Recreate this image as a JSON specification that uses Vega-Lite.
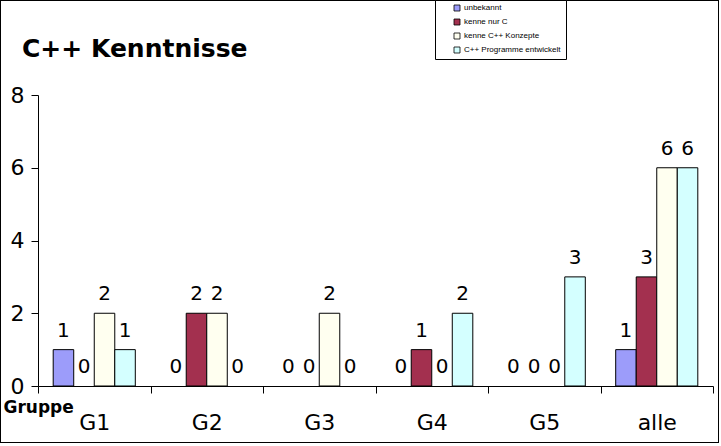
{
  "$schema": "https://vega.github.io/schema/vega-lite/v6.json",
  "width": 719,
  "height": 443,
  "autosize": {"type": "none"},
  "padding": 0,
  "background": "white",
  "config": {
    "view": {"stroke": "black", "strokeWidth": 2},
    "axis": {"grid": false, "domainColor": "black", "tickColor": "black", "labelColor": "black", "domainWidth": 1, "tickWidth": 1}
  },
  "title": {
    "text": "C++ Kenntnisse",
    "font": "DejaVu Sans",
    "fontSize": 25,
    "fontWeight": "bold",
    "color": "black",
    "anchor": "start",
    "frame": "group",
    "orient": "top",
    "offset": 0,
    "baseline": "alphabetic",
    "dx": 22,
    "dy": 82
  },
  "data": {
    "values": [
      {"gruppe": "G1", "serie": "unbekannt", "wert": 1},
      {"gruppe": "G1", "serie": "kenne nur C", "wert": 0},
      {"gruppe": "G1", "serie": "kenne C++ Konzepte", "wert": 2},
      {"gruppe": "G1", "serie": "C++ Programme entwickelt", "wert": 1},
      {"gruppe": "G2", "serie": "unbekannt", "wert": 0},
      {"gruppe": "G2", "serie": "kenne nur C", "wert": 2},
      {"gruppe": "G2", "serie": "kenne C++ Konzepte", "wert": 2},
      {"gruppe": "G2", "serie": "C++ Programme entwickelt", "wert": 0},
      {"gruppe": "G3", "serie": "unbekannt", "wert": 0},
      {"gruppe": "G3", "serie": "kenne nur C", "wert": 0},
      {"gruppe": "G3", "serie": "kenne C++ Konzepte", "wert": 2},
      {"gruppe": "G3", "serie": "C++ Programme entwickelt", "wert": 0},
      {"gruppe": "G4", "serie": "unbekannt", "wert": 0},
      {"gruppe": "G4", "serie": "kenne nur C", "wert": 1},
      {"gruppe": "G4", "serie": "kenne C++ Konzepte", "wert": 0},
      {"gruppe": "G4", "serie": "C++ Programme entwickelt", "wert": 2},
      {"gruppe": "G5", "serie": "unbekannt", "wert": 0},
      {"gruppe": "G5", "serie": "kenne nur C", "wert": 0},
      {"gruppe": "G5", "serie": "kenne C++ Konzepte", "wert": 0},
      {"gruppe": "G5", "serie": "C++ Programme entwickelt", "wert": 3},
      {"gruppe": "alle", "serie": "unbekannt", "wert": 1},
      {"gruppe": "alle", "serie": "kenne nur C", "wert": 3},
      {"gruppe": "alle", "serie": "kenne C++ Konzepte", "wert": 6},
      {"gruppe": "alle", "serie": "C++ Programme entwickelt", "wert": 6}
    ]
  },
  "encoding": {
    "x": {
      "field": "gruppe",
      "type": "nominal",
      "sort": ["G1", "G2", "G3", "G4", "G5", "alle"],
      "scale": {"range": [38, 713], "paddingInner": 0, "paddingOuter": 0},
      "axis": {
        "title": "Gruppe",
        "titleFont": "DejaVu Sans",
        "titleFontSize": 17,
        "titleFontWeight": "bold",
        "titleColor": "black",
        "titleAnchor": null,
        "titleAlign": "left",
        "titleBaseline": "alphabetic",
        "titleX": 3,
        "titleY": 26,
        "offset": -57,
        "tickBand": "extent",
        "tickSize": 7,
        "labelAngle": 0,
        "labelFont": "DejaVu Sans",
        "labelFontSize": 22,
        "labelPadding": 19
      }
    },
    "xOffset": {
      "field": "serie",
      "type": "nominal",
      "sort": ["unbekannt", "kenne nur C", "kenne C++ Konzepte", "C++ Programme entwickelt"],
      "scale": {"paddingInner": 0, "paddingOuter": 0.74}
    },
    "y": {
      "field": "wert",
      "type": "quantitative",
      "scale": {"domain": [0, 8], "range": [386, 95], "nice": false},
      "axis": {
        "title": null,
        "offset": -38,
        "values": [0, 2, 4, 6, 8],
        "tickSize": 7,
        "labelPadding": 7,
        "labelFont": "DejaVu Sans",
        "labelFontSize": 22
      }
    }
  },
  "layer": [
    {
      "transform": [{"filter": "datum.wert > 0"}],
      "mark": {"type": "bar", "stroke": "black", "strokeWidth": 1},
      "encoding": {
        "color": {
          "field": "serie",
          "type": "nominal",
          "sort": ["unbekannt", "kenne nur C", "kenne C++ Konzepte", "C++ Programme entwickelt"],
          "scale": {
            "domain": ["unbekannt", "kenne nur C", "kenne C++ Konzepte", "C++ Programme entwickelt"],
            "range": ["#9c9cfa", "#a3304f", "#fffff0", "#d4ffff"]
          },
          "legend": {
            "orient": "none",
            "legendX": 435,
            "legendY": 0,
            "title": "\u2003",
            "titleOrient": "right",
            "titleFontSize": 13,
            "titlePadding": 2,
            "strokeColor": "black",
            "fillColor": "white",
            "padding": 4,
            "symbolType": "square",
            "symbolSize": 36,
            "symbolStrokeColor": "black",
            "symbolStrokeWidth": 0.8,
            "symbolOffset": 14,
            "labelFont": "Liberation Sans",
            "labelFontSize": 8,
            "labelColor": "black",
            "labelOffset": 3,
            "rowPadding": 4,
            "labelLimit": 200
          }
        }
      }
    },
    {
      "mark": {"type": "text", "baseline": "alphabetic", "dy": -13, "font": "DejaVu Sans", "fontSize": 20, "color": "black"},
      "encoding": {
        "text": {"field": "wert", "type": "quantitative"}
      }
    }
  ]
}
